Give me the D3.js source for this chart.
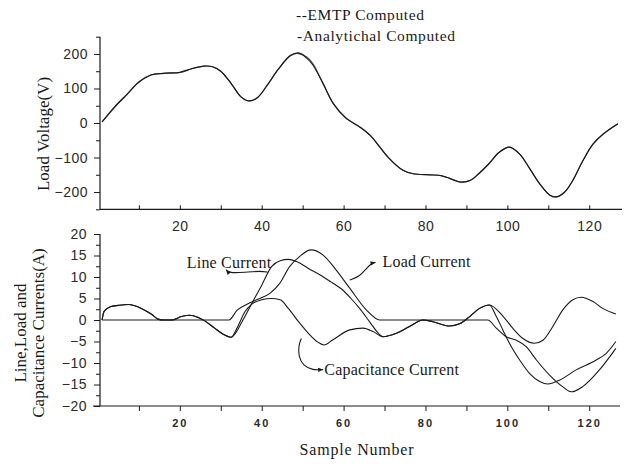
<!DOCTYPE html>
<html>
<head>
<meta charset="utf-8">
<script src="https://cdn.jsdelivr.net/npm/d3@7"></script>
<style>
body { margin: 0; background: #fff; }
</style>
</head>
<body>
<svg id="chart" width="636" height="464"></svg>
<script>
//---------------------------------------- data ----------------------------------------
var voltN = [1, 4, 7, 10, 13, 16, 20, 23, 26, 28, 30, 32.5, 35, 37, 39, 41.5, 44, 47, 49, 51, 52.5, 55, 57.5, 60.5, 64, 66.5, 69, 71, 74.5, 77, 81, 84, 86, 88.5, 91, 93, 95.5, 98, 100.5, 103, 105.5, 108, 110.5, 112, 114, 116, 118.5, 121, 123.5, 127];
var emtpV = [3, 46, 82, 118, 139, 144, 147, 158, 165, 163, 150, 115, 75, 64, 74, 112, 155, 195, 203, 188, 168, 114, 56, 15, -12, -36, -72, -101, -137, -147, -150, -153, -161, -171, -166, -147, -118, -85, -70, -90, -133, -178, -210, -214, -200, -166, -108, -60, -31, -2];
var analV = [3, 44, 81, 120, 140, 144, 146, 157, 165, 163, 150, 115, 75, 64, 74, 112, 155, 196, 201, 191, 172, 114, 56, 15, -12, -36, -72, -101, -137, -147, -150, -153, -161, -171, -166, -147, -118, -85, -70, -90, -133, -178, -210, -214, -200, -166, -108, -60, -31, -2];

var lineN = [1, 1.5, 3, 5, 7.4, 9, 10.6, 13, 14.7, 16, 18, 20.4, 22.4, 24.5, 26.1, 28.5, 30.6, 32.5, 35.2, 37.6, 40, 42.4, 44.5, 46.5, 48.5, 51.4, 54.6, 57, 59.5, 61.8, 63.9, 66.5, 68.8, 69.6, 72.9, 76.1, 79.4, 81.8, 85.9, 88.3, 90.8, 93.2, 95.6, 97.3, 98.9, 100.5, 103, 105.4, 107.9, 109.9, 112.7, 116.8, 121.7, 124.1, 126.5];
var lineI = [0, 2.0, 3.1, 3.4, 3.6, 3.3, 2.7, 1.4, 0.2, 0, 0, 0.8, 1.1, 0.6, -0.2, -1.9, -3.3, -4.0, -0.4, 3.9, 8.1, 12.4, 13.8, 14.1, 13.6, 12.0, 10.3, 8.8, 7.2, 5.0, 2.7, -0.6, -3.4, -3.9, -3.1, -1.5, 0, -0.4, -1.4, -0.9, 0.8, 2.7, 3.5, 0.8, -2.3, -5.4, -9.3, -12.4, -14.3, -14.9, -14.0, -11.6, -9.3, -7.8, -5.0];

var loadN = [1, 32, 34, 36.3, 39, 42, 44.4, 46.8, 49.3, 52, 55, 58.2, 61.5, 65.6, 68.8, 95.2, 97.3, 99.7, 102.2, 104.6, 107.1, 110.3, 113.5, 115.6, 118.4, 122.5, 126.5];
var loadI = [0, 0, 2.3, 3.6, 4.8, 6.2, 8.5, 12.4, 14.8, 16.3, 15.1, 11.6, 7.4, 2.3, 0, 0, -1.9, -3.9, -4.7, -6.2, -9.3, -12.8, -15.5, -16.7, -15.5, -11.6, -6.6];

var capN = [1, 1.5, 3, 5, 7.4, 9, 10.6, 13, 14.7, 16, 18, 20.4, 22.4, 24.5, 26.1, 28.5, 30.6, 32.5, 34.3, 35.9, 37.6, 40, 42.4, 44.5, 46.5, 49, 51.4, 53.8, 55.2, 57.4, 61.5, 64.7, 67.2, 69.6, 72.9, 76.1, 79.4, 81.8, 85.9, 88.3, 90.8, 93.2, 95.6, 99, 101.3, 103.8, 106.6, 108.7, 111.1, 113.5, 116, 118, 120.9, 123.3, 126.5];
var capI = [0, 2.0, 3.1, 3.4, 3.6, 3.3, 2.7, 1.4, 0.2, 0, 0, 0.8, 1.1, 0.6, -0.2, -1.9, -3.3, -4.0, -1.2, 1.9, 3.7, 4.7, 5.0, 4.7, 2.7, -0.4, -3.1, -5.2, -5.8, -4.6, -2.3, -1.9, -2.7, -3.9, -3.1, -1.5, 0, -0.4, -1.4, -0.9, 0.8, 2.7, 3.5, 0.8, -1.9, -4.3, -5.4, -4.7, -1.5, 2.3, 4.7, 5.3, 4.3, 2.7, 1.4];

var xTicks = [10, 20, 30, 40, 50, 60, 70, 80, 90, 100, 110, 120];
var xLabels = [20, 40, 60, 80, 100, 120];
var vTicks = [-200, -100, 0, 100, 200];
var vMinor = [-250, -150, -50, 50, 150, 250];
var iTicks = [-20, -15, -10, -5, 0, 5, 10, 15, 20];
var iMinor = [-17.5, -12.5, -7.5, -2.5, 2.5, 7.5, 12.5, 17.5];

//---------------------------------------- setup ----------------------------------------
var svg = d3.select("#chart");
var ink = "#1a1a1a";
var serif = "'Liberation Serif', 'DejaVu Serif', serif";
var sans = "'Liberation Sans', Arial, sans-serif";

var x = d3.scaleLinear().domain([0.5, 128]).range([100, 622]);
var yV = d3.scaleLinear().domain([-250, 250]).range([209.3, 36.7]);
var yI = d3.scaleLinear().domain([-20, 20]).range([406, 234]);

function pairs(n, v) { return n.map(function(d, i) { return [d, v[i]]; }); }

function styleAxis(g) {
    g.select(".domain").remove();
    g.selectAll("line").attr("stroke", ink).attr("stroke-width", 1);
    g.selectAll("text").attr("fill", "#2a2a2a");
}

//---------------------------------------- top panel: load voltage ----------------------------------------
var topG = svg.append("g");

topG.append("g").attr("transform", "translate(100,0)")
    .call(d3.axisLeft(yV).tickValues(vMinor).tickSize(4).tickFormat(""))
    .call(styleAxis);
topG.append("g").attr("transform", "translate(100,0)")
    .call(d3.axisLeft(yV).tickValues(vTicks).tickSize(6).tickPadding(6))
    .call(styleAxis)
    .selectAll("text").style("font", "14px " + sans).attr("letter-spacing", 0.5);

topG.append("g").attr("transform", "translate(0,209.3)")
    .call(d3.axisBottom(x).tickValues(xTicks).tickSize(-4).tickPadding(12)
        .tickFormat(function(d) { return xLabels.indexOf(d) >= 0 ? d : ""; }))
    .call(styleAxis)
    .selectAll("text").style("font", "14px " + sans).attr("letter-spacing", 0.5);

topG.append("line").attr("x1", 100).attr("x2", 100).attr("y1", 36.7).attr("y2", 209.3)
    .attr("stroke", ink).attr("stroke-width", 1.2);
topG.append("line").attr("x1", 100).attr("x2", 622).attr("y1", 209.3).attr("y2", 209.3)
    .attr("stroke", ink).attr("stroke-width", 1.2);

var vLine = d3.line()
    .x(function(d) { return x(d[0]); })
    .y(function(d) { return yV(d[1]); })
    .curve(d3.curveCatmullRom.alpha(0.5));

topG.append("path").attr("d", vLine(pairs(voltN, analV)))
    .attr("fill", "none").attr("stroke", "#555").attr("stroke-width", 1.1);
topG.append("path").attr("d", vLine(pairs(voltN, emtpV)))
    .attr("fill", "none").attr("stroke", ink).attr("stroke-width", 1.2);

topG.append("text").attr("x", 43).attr("y", 134)
    .attr("transform", "rotate(-90,43,134)").attr("dy", "0.35em")
    .attr("text-anchor", "middle").style("font", "17px " + serif).attr("fill", ink)
    .text("Load Voltage(V)");

topG.append("text").attr("x", 296).attr("y", 20)
    .style("font", "15.5px " + serif).attr("letter-spacing", 0.6).attr("fill", ink)
    .text("--EMTP Computed");
topG.append("text").attr("x", 297).attr("y", 41)
    .style("font", "15.5px " + serif).attr("letter-spacing", 0.6).attr("fill", ink)
    .text("-Analytichal Computed");

//---------------------------------------- bottom panel: currents ----------------------------------------
var botG = svg.append("g");

botG.append("g").attr("transform", "translate(100,0)")
    .call(d3.axisLeft(yI).tickValues(iMinor).tickSize(4).tickFormat(""))
    .call(styleAxis);
botG.append("g").attr("transform", "translate(100,0)")
    .call(d3.axisLeft(yI).tickValues(iTicks).tickSize(6).tickPadding(7))
    .call(styleAxis)
    .selectAll("text").style("font", "14px " + sans).attr("letter-spacing", 0.5);

botG.append("g").attr("transform", "translate(0,406)")
    .call(d3.axisBottom(x).tickValues(xTicks).tickSize(5).tickPadding(8)
        .tickFormat(function(d) { return xLabels.indexOf(d) >= 0 ? d : ""; }))
    .call(styleAxis)
    .selectAll("text").style("font", "bold 11px " + sans).attr("letter-spacing", 2);

botG.append("line").attr("x1", 100).attr("x2", 100).attr("y1", 234).attr("y2", 406)
    .attr("stroke", ink).attr("stroke-width", 1.2);
botG.append("line").attr("x1", 93).attr("x2", 620).attr("y1", 406).attr("y2", 406)
    .attr("stroke", ink).attr("stroke-width", 1.2);

var iLine = d3.line()
    .x(function(d) { return x(d[0]); })
    .y(function(d) { return yI(d[1]); })
    .curve(d3.curveMonotoneX);

[[loadN, loadI], [capN, capI], [lineN, lineI]].forEach(function(s) {
    botG.append("path").attr("d", iLine(pairs(s[0], s[1])))
        .attr("fill", "none").attr("stroke", ink).attr("stroke-width", 1.1);
});

// annotations with curly pointers
var ptr = d3.line()
    .x(function(d) { return x(d[0]); })
    .y(function(d) { return yI(d[1]); })
    .curve(d3.curveBasis);

var notes = [
    { text: "Line Current", at: [21.7, 12.1],
      path: [[31.3, 11.7], [32.0, 10.9], [35.9, 11.1], [39.9, 11.4], [41.5, 11.1]], head: 0 },
    { text: "Load Current", at: [69.5, 12.3],
      path: [[61.5, 9.3], [63.9, 10.1], [65.6, 12.0], [66.8, 13.2], [67.8, 13.4]], head: 1 },
    { text: "Capacitance Current", at: [55.3, -12.8],
      path: [[49.7, -4.3], [49.0, -5.8], [49.0, -8.5], [50.1, -10.6], [52.5, -11.7], [55.0, -11.5]], head: 1 }
];

notes.forEach(function(nt) {
    botG.append("path").attr("d", ptr(nt.path))
        .attr("fill", "none").attr("stroke", ink).attr("stroke-width", 1.1);
    var p = nt.head ? nt.path[nt.path.length - 1] : nt.path[0];
    var q = nt.head ? nt.path[nt.path.length - 2] : nt.path[1];
    var px = x(p[0]), py = yI(p[1]);
    var ang = Math.atan2(py - yI(q[1]), px - x(q[0]));
    var l = 5, w = 2.2;
    var pts = [
        [px, py],
        [px - l * Math.cos(ang) + w * Math.sin(ang), py - l * Math.sin(ang) - w * Math.cos(ang)],
        [px - l * Math.cos(ang) - w * Math.sin(ang), py - l * Math.sin(ang) + w * Math.cos(ang)]
    ];
    botG.append("path").attr("d", "M" + pts.join("L") + "Z").attr("fill", ink);
    botG.append("text").attr("x", x(nt.at[0])).attr("y", yI(nt.at[1]))
        .style("font", "16px " + serif).attr("letter-spacing", 0.2).attr("fill", ink)
        .text(nt.text);
});

botG.append("text").attr("x", 20).attr("y", 333)
    .attr("transform", "rotate(-90,20,333)").attr("dy", "0.35em")
    .attr("text-anchor", "middle").style("font", "17px " + serif).attr("fill", ink)
    .text("Line,Load and");
botG.append("text").attr("x", 38).attr("y", 333)
    .attr("transform", "rotate(-90,38,333)").attr("dy", "0.35em")
    .attr("text-anchor", "middle").style("font", "17px " + serif).attr("fill", ink)
    .text("Capacitance Currents(A)");

botG.append("text").attr("x", 357).attr("y", 455)
    .attr("text-anchor", "middle").style("font", "16px " + serif).attr("letter-spacing", 0.8).attr("fill", ink)
    .text("Sample Number");
</script>
</body>
</html>
